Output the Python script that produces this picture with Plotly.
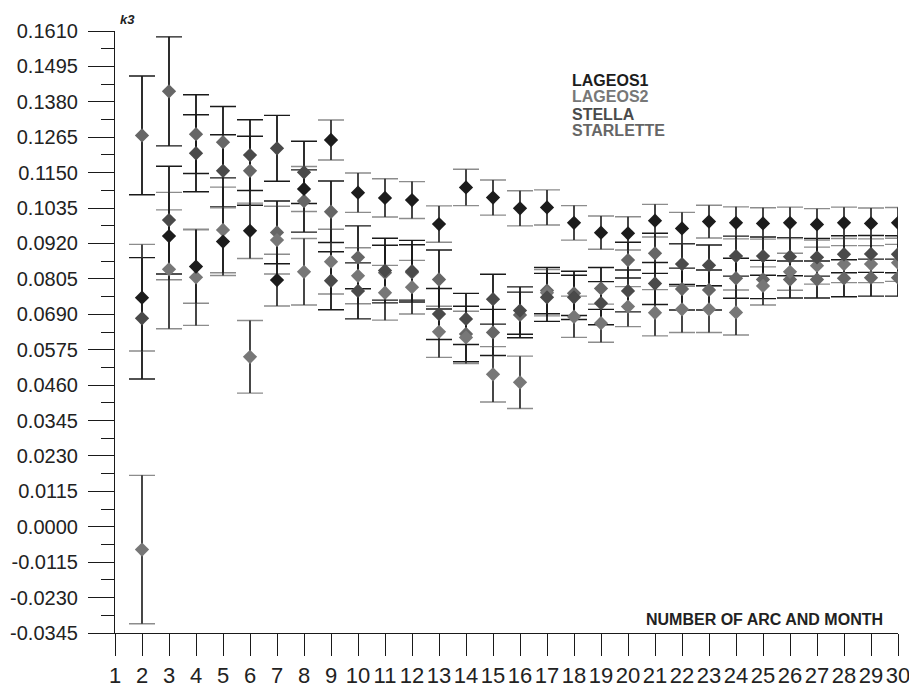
import plotly.graph_objects as go

arcs = list(range(2, 31))

lageos1 = [0.0744, 0.0944, 0.0845, 0.0926, 0.0961, 0.0801, 0.1097, 0.1256, 0.1085, 0.1068,
           0.1061, 0.0983, 0.1102, 0.1069, 0.1034, 0.1037, 0.0987, 0.0955, 0.0953, 0.0994,
           0.0969, 0.0991, 0.0987, 0.0985, 0.0987, 0.0982, 0.0987, 0.0985, 0.0987]
lageos1_err = [0.0173, 0.0142, 0.0119, 0.0110, 0.0090, 0.0084, 0.0073, 0.0065, 0.0064, 0.0062,
               0.0060, 0.0059, 0.0059, 0.0057, 0.0057, 0.0057, 0.0056, 0.0054, 0.0054, 0.0053,
               0.0052, 0.0053, 0.0052, 0.0051, 0.0051, 0.0051, 0.0051, 0.0050, 0.0050]

lageos2 = [-0.0074, 0.0836, 0.0810, 0.0964, 0.0552, 0.0931, 0.0828, 0.0861, 0.0815, 0.0760,
           0.0778, 0.0633, 0.0615, 0.0495, 0.0469, 0.0760, 0.0682, 0.0661, 0.0715, 0.0695,
           0.0706, 0.0706, 0.0696, 0.0782, 0.0828, 0.0848, 0.0853, 0.0853, 0.0857]
lageos2_err = [0.0241, 0.0193, 0.0156, 0.0139, 0.0118, 0.0110, 0.0108, 0.0105, 0.0091, 0.0089,
               0.0087, 0.0083, 0.0085, 0.0090, 0.0085, 0.0075, 0.0067, 0.0062, 0.0065, 0.0075,
               0.0075, 0.0075, 0.0073, 0.0062, 0.0060, 0.0060, 0.0060, 0.0060, 0.0060]

stella = [0.0677, 0.0996, 0.1213, 0.1156, 0.1207, 0.1229, 0.1151, 0.0799, 0.0766, 0.0832,
          0.0830, 0.0691, 0.0675, 0.0739, 0.0702, 0.0745, 0.0745, 0.0726, 0.0766, 0.0790,
          0.0853, 0.0849, 0.0879, 0.0879, 0.0877, 0.0875, 0.0885, 0.0886, 0.0885]
stella_err = [0.0197, 0.0175, 0.0125, 0.0117, 0.0115, 0.0107, 0.0101, 0.0094, 0.0091, 0.0105,
              0.0100, 0.0083, 0.0083, 0.0081, 0.0077, 0.0078, 0.0072, 0.0070, 0.0068, 0.0068,
              0.0066, 0.0066, 0.0065, 0.0062, 0.0062, 0.0061, 0.0060, 0.0060, 0.0060]

starlette = [0.1271, 0.1414, 0.1275, 0.1249, 0.1156, 0.0956, 0.1058, 0.1023, 0.0875, 0.0825,
             0.0826, 0.0803, 0.0626, 0.0631, 0.0688, 0.0767, 0.0758, 0.0774, 0.0866, 0.0888,
             0.0772, 0.0769, 0.0807, 0.0803, 0.0803, 0.0803, 0.0807, 0.0809, 0.0809]
starlette_err = [0.0193, 0.0177, 0.0128, 0.0116, 0.0112, 0.0102, 0.0101, 0.0100, 0.0102, 0.0089,
                 0.0090, 0.0096, 0.0090, 0.0075, 0.0074, 0.0075, 0.0072, 0.0068, 0.0058, 0.0065,
                 0.0068, 0.0065, 0.0065, 0.0062, 0.0060, 0.0060, 0.0060, 0.0060, 0.0060]

x_ticks = list(range(1, 31))
y_ticks = [-0.0345, -0.0230, -0.0115, 0.0000, 0.0115, 0.0230, 0.0345, 0.0460, 0.0575,
           0.0690, 0.0805, 0.0920, 0.1035, 0.1150, 0.1265, 0.1380, 0.1495, 0.1610]

series = [
    ("LAGEOS1", lageos1, lageos1_err, "#1c1c1c", "#8c8c8c"),
    ("LAGEOS2", lageos2, lageos2_err, "#777777", "#8c8c8c"),
    ("STELLA", stella, stella_err, "#4a4a4a", "#1a1a1a"),
    ("STARLETTE", starlette, starlette_err, "#666666", "#1a1a1a"),
]
draw_order = [3, 1, 2, 0]

fig = go.Figure()
# caps (coloured)
for i in draw_order:
    name, vals, errs, mcol, capcol = series[i]
    fig.add_trace(go.Scatter(x=arcs, y=vals, mode="markers", name=name,
                             marker=dict(size=10, opacity=0),
                             error_y=dict(type="data", array=errs, visible=True,
                                          color=capcol, thickness=1.4, width=13),
                             hoverinfo="skip"))
# stems (black)
for i in draw_order:
    name, vals, errs, mcol, capcol = series[i]
    fig.add_trace(go.Scatter(x=arcs, y=vals, mode="markers", name=name,
                             marker=dict(size=10, opacity=0),
                             error_y=dict(type="data", array=errs, visible=True,
                                          color="#1a1a1a", thickness=1.4, width=0),
                             hoverinfo="skip"))
# diamonds
for i in draw_order:
    name, vals, errs, mcol, capcol = series[i]
    fig.add_trace(go.Scatter(x=arcs, y=vals, mode="markers", name=name,
                             marker=dict(symbol="diamond", size=11, color=mcol,
                                         line=dict(width=0))))

# the page body adds an 8px offset, so the figure is drawn 8px smaller
fig.update_layout(
    width=909, height=681,
    margin=dict(l=107, r=19, t=23, b=56, autoexpand=False),
    plot_bgcolor="white", paper_bgcolor="white",
    showlegend=False,
    font=dict(family="Liberation Sans, Arial, sans-serif", color="#222222"),
)
fig.update_xaxes(range=[1, 30], tickmode="array", tickvals=x_ticks,
                 ticktext=[str(v) for v in x_ticks], automargin=False, tickangle=0,
                 showline=True, linecolor="#1a1a1a", linewidth=1.2,
                 ticks="outside", ticklen=22, tickcolor="#1a1a1a", tickwidth=1,
                 ticklabelstandoff=0,
                 tickfont=dict(size=22, family="Liberation Sans, Arial, sans-serif", color="#222222"),
                 showgrid=False, zeroline=False)
fig.update_yaxes(range=[-0.0345, 0.1610], tickmode="array", tickvals=y_ticks,
                 ticktext=[f"{v:.4f}" for v in y_ticks], automargin=False,
                 showline=True, linecolor="#1a1a1a", linewidth=1.2,
                 ticks="outside", ticklen=26, tickcolor="#1a1a1a", tickwidth=1,
                 ticklabelstandoff=6,
                 minor=dict(ticks="outside", ticklen=13, tick0=-0.0345, dtick=0.00575,
                            tickcolor="#1a1a1a", showgrid=False),
                 tickfont=dict(size=20, family="Liberation Sans, Arial, sans-serif", color="#222222"),
                 showgrid=False, zeroline=False)

annots = [
    dict(text="<b><i>k3</i></b>", x=0.016, y=1.019, xanchor="center", yanchor="middle",
         font=dict(size=13, color="#222222")),
    dict(text="<b>NUMBER OF ARC AND MONTH</b>", x=0.829, y=0.0216, xanchor="center", yanchor="middle",
         font=dict(size=16, color="#222222")),
]
legend_y = [0.9186, 0.8904, 0.8621, 0.8339]
for (name, vals, errs, mcol, capcol), ly in zip(series, legend_y):
    annots.append(dict(text=f"<b>{name}</b>", x=0.581, y=ly, xanchor="left", yanchor="middle",
                       font=dict(size=16, color=mcol)))
for a in annots:
    a.update(xref="paper", yref="paper", showarrow=False)
fig.update_layout(annotations=annots)

fig.write_html("out.html")
